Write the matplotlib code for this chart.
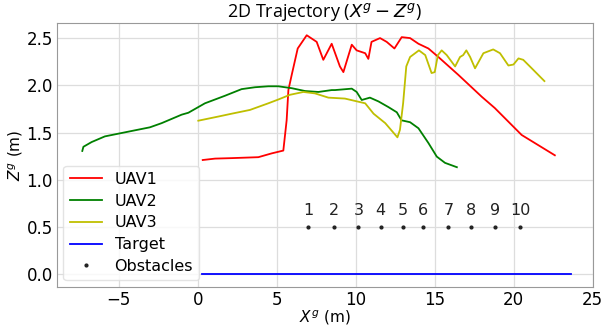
import matplotlib
matplotlib.use("Agg")
import matplotlib.pyplot as plt
import numpy as np

# trajectories (metres)
uav1_x = [0.32, 1.10, 2.15, 3.84, 4.68, 5.42, 5.63, 5.74, 5.95, 6.33, 6.90, 7.53, 7.95,
          8.48, 9.00, 9.22, 9.75, 10.06, 10.6, 10.8, 11.0, 11.54, 11.96, 12.45, 12.91,
          13.44, 13.97, 14.6, 15.23, 16.5, 17.97, 18.8, 20.5, 22.6]
uav1_z = [1.21, 1.225, 1.23, 1.24, 1.28, 1.31, 1.63, 1.95, 2.11, 2.39, 2.53, 2.46, 2.27,
          2.44, 2.20, 2.14, 2.43, 2.37, 2.34, 2.28, 2.46, 2.50, 2.46, 2.39, 2.51,
          2.50, 2.44, 2.39, 2.30, 2.11, 1.88, 1.76, 1.475, 1.26]

uav2_x = [-7.3, -7.23, -6.71, -5.87, -4.39, -3.02, -2.28, -1.01, -0.59, 0.46, 1.73, 2.78,
          3.63, 4.47, 5.1, 5.95, 6.79, 7.64, 8.48, 8.69, 9.75, 10.06, 10.38, 10.9, 11.44,
          12.07, 12.6, 12.9, 13.44, 13.97, 14.6, 15.13, 15.65, 16.4]
uav2_z = [1.306, 1.35, 1.40, 1.46, 1.51, 1.556, 1.60, 1.69, 1.71, 1.81, 1.89, 1.96,
          1.98, 1.99, 1.99, 1.97, 1.94, 1.93, 1.95, 1.95, 1.965, 1.93, 1.845, 1.87, 1.83,
          1.77, 1.715, 1.63, 1.61, 1.546, 1.39, 1.246, 1.18, 1.134]

uav3_x = [0.04, 1.31, 2.15, 3.31, 4.47, 5.1, 5.84, 6.69, 7.42, 8.27, 9.32, 10.6, 11.13,
          11.87, 12.64, 12.8, 13.0, 13.2, 13.44, 14.0, 14.4, 14.8, 15.0, 15.2, 15.44,
          15.76, 16.29, 16.6, 16.8, 17.0, 17.24, 17.55, 18.08, 18.7, 19.13, 19.66, 19.98,
          20.3, 20.6, 21.14, 21.94]
uav3_z = [1.626, 1.67, 1.70, 1.74, 1.81, 1.85, 1.90, 1.93, 1.915, 1.87, 1.86, 1.81, 1.70,
          1.60, 1.45, 1.53, 1.81, 2.20, 2.30, 2.37, 2.32, 2.13, 2.14, 2.32, 2.37,
          2.32, 2.20, 2.30, 2.32, 2.37, 2.30, 2.18, 2.34, 2.38, 2.34, 2.21, 2.22,
          2.285, 2.27, 2.18, 2.045]

target_x = [0.3, 23.6]
target_z = [0.0, 0.0]

obstacle_x = [7.0, 8.65, 10.17, 11.58, 13.0, 14.28, 15.87, 17.3, 18.8, 20.4]
obstacle_z = [0.5] * len(obstacle_x)
obstacle_labels = [str(i + 1) for i in range(len(obstacle_x))]

plt.rcParams.update({"font.family": "DejaVu Sans", "font.size": 11})

fig = plt.figure(figsize=(6.13, 3.28), dpi=100)
ax = fig.add_axes([0.093, 0.126, 0.874, 0.804])

ax.plot(uav1_x, uav1_z, color="#ff0000", linewidth=1.3, label="UAV1")
ax.plot(uav2_x, uav2_z, color="#008000", linewidth=1.3, label="UAV2")
ax.plot(uav3_x, uav3_z, color="#bfbf00", linewidth=1.3, label="UAV3")
ax.plot(target_x, target_z, color="#0000ff", linewidth=1.3, label="Target")
ax.plot(obstacle_x, obstacle_z, linestyle="none", marker=".", markersize=4,
        color="#222222", label="Obstacles")
for x, z, lab in zip(obstacle_x, obstacle_z, obstacle_labels):
    ax.text(x, z + 0.1, lab, ha="center", va="bottom", fontsize=11.5, color="#222222")

ax.set_xlim(-8.9, 25.0)
ax.set_ylim(-0.13, 2.66)
ax.set_xticks([-5, 0, 5, 10, 15, 20, 25])
ax.set_yticks([0.0, 0.5, 1.0, 1.5, 2.0, 2.5])
ax.grid(True, color="#dddddd", linewidth=0.9)
ax.set_axisbelow(True)
ax.tick_params(length=0, labelsize=12, pad=3)
for s in ax.spines.values():
    s.set_color("#999999")

ax.set_xlabel("$X^g$ (m)", fontsize=11, labelpad=0)
ax.set_ylabel("$Z^g$ (m)", fontsize=11, labelpad=1)
ax.set_title("2D Trajectory ($X^g - Z^g$)", fontsize=13, family="Open Sans", pad=3)

ax.legend(loc="lower left", fontsize=11.5, framealpha=0.8, edgecolor="#dddddd",
          borderaxespad=0.4, labelspacing=0.42)

fig.savefig("out.png", dpi=100, facecolor="white")
